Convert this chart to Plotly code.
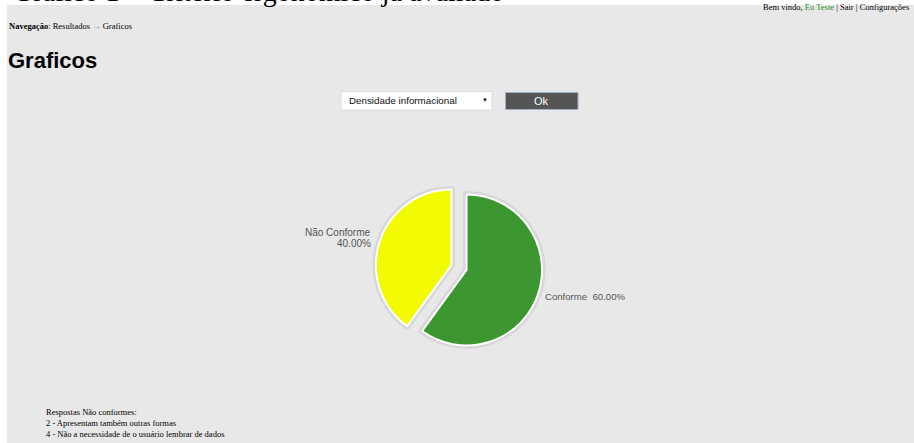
import plotly.graph_objects as go

W, H = 914, 443

# ---- data ----
categories = ["Conforme", "Não Conforme"]
values = [60, 40]
slice_colors = ["#3d9731", "#f2fb00"]
pulls = [0.105, 0.105]
dropdown_label = "Densidade informacional"
notes_title = "Respostas Não conformes:"
notes = ["2 - Apresentam também outras formas",
         "4 - Não a necessidade de o usuário lembrar de dados"]

total = sum(values)
pcts = [f"{v / total * 100:.2f}%" for v in values]


def X(px):
    return px / W


def Y(py):
    return 1 - py / H


SERIF = "Liberation Serif"
SANS = "Liberation Sans"

# pie geometry (pixel centre and radius)
cx, cy, r = 459, 267.5, 75.5
half = r * (1 + max(pulls))
dom = dict(x=[X(cx - half), X(cx + half)], y=[Y(cy + half), Y(cy - half)])

fig = go.Figure()
# soft shadow under the pie
fig.add_trace(go.Pie(
    labels=categories, values=values, sort=False, direction="clockwise",
    rotation=0, pull=pulls, domain=dom, textinfo="none", hoverinfo="skip",
    marker=dict(colors=["rgba(0,0,0,0.06)"] * 2,
                line=dict(color="rgba(0,0,0,0.07)", width=7)),
    showlegend=False))
fig.add_trace(go.Pie(
    labels=categories, values=values, sort=False, direction="clockwise",
    rotation=0, pull=pulls, domain=dom, textinfo="none", hoverinfo="skip",
    marker=dict(colors=slice_colors, line=dict(color="#ffffff", width=2)),
    showlegend=False))

shapes = [
    # page background
    dict(type="rect", xref="paper", yref="paper", x0=X(7), x1=X(914),
         y0=Y(443), y1=Y(5), fillcolor="#e8e8e8", line=dict(width=0), layer="below"),
    # dropdown
    dict(type="rect", xref="paper", yref="paper", x0=X(341), x1=X(492),
         y0=Y(110), y1=Y(91.5), fillcolor="#ffffff",
         line=dict(color="#dcdcdc", width=1), layer="below"),
    # Ok button
    dict(type="rect", xref="paper", yref="paper", x0=X(505.5), x1=X(578),
         y0=Y(109.5), y1=Y(92.5), fillcolor="#555555",
         line=dict(color="#9fb0c8", width=1), layer="below"),
]

ann = []


def text(x, y, t, size, family, color="#000000", xanchor="left", align="left"):
    ann.append(dict(x=X(x), y=Y(y), xref="paper", yref="paper", text=t,
                    showarrow=False, xanchor=xanchor, yanchor="middle",
                    align=align, font=dict(size=size, family=family, color=color)))


# cropped document caption at the very top
text(11, -8.5, "Gráfico 1 – Critério ergonômico já avaliado", 28, SERIF)

text(911, 7.5, "Bem vindo, <span style='color:#2e8b2e'>Eu Teste</span> | Sair | Configurações",
     8.5, SERIF, xanchor="right")
text(7, 26, "<b>Navegação</b>: Resultados <span style='color:#3a8fd8'>→</span> Graficos",
     8.5, SERIF)
text(6, 61, "<b>Graficos</b>", 22, SANS)

text(346.5, 100.5, dropdown_label, 9.8, SANS, color="#111111")
text(485, 100, "▼", 6, SANS, color="#111111", xanchor="center")
text(541.5, 100.5, "Ok", 11, SANS, color="#ffffff", xanchor="center")

# pie labels
text(372, 232, categories[1], 10, SANS, color="#555555", xanchor="right")
text(373, 243.5, pcts[1], 10, SANS, color="#555555", xanchor="right")
text(543, 296, categories[0] + "\u00a0\u00a0" + pcts[0], 9.6, SANS,
     color="#555555")

# notes at the bottom
text(44, 412, notes_title, 8.5, SERIF)
text(44, 423, notes[0], 8.5, SERIF)
text(44, 434, notes[1], 8.5, SERIF)

fig.update_layout(width=W, height=H, margin=dict(l=0, r=0, t=0, b=0),
                  paper_bgcolor="#ffffff", plot_bgcolor="#ffffff",
                  shapes=shapes, annotations=ann, showlegend=False)
fig.write_html("out.html")
